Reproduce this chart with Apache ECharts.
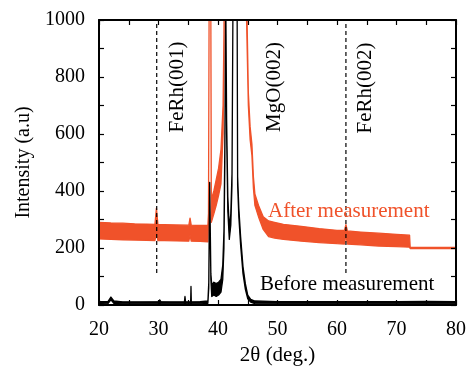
<!DOCTYPE html>
<html><head><meta charset="utf-8">
<script src="https://cdn.jsdelivr.net/npm/echarts@6/dist/echarts.min.js"></script>
<style>html,body{margin:0;padding:0;background:#fff}#c{width:471px;height:367px}</style>
</head><body><div id="c"></div>
<script>
// ---- data (2θ in degrees, intensity in a.u.) ----
// "After measurement" trace: noisy band given by its lower and upper envelope
const afterX    = [20,22,24,26,28, 29.4,29.65,29.9, 31,33, 35.1,35.3,35.5, 37, 38.3,38.4,38.5,38.65,38.8,38.88, 39.3,39.7,40.1,40.5, 40.85,41.0,41.15, 44.8,45.1,45.4,45.7,45.95,46.2,46.8,47.6,48.5,49.5, 51,54,57,60, 61.25,61.5,61.75, 64,67,70, 72.2,72.3,80];
const afterLow  = [232,230,229,228,227, 226,250,226, 226,225, 224,245,224, 223, 222,300,1000,1500,1000,290, 320,350,385,425, 600,850,1500, 1000,700,580,525,410,350,310,265,240,235, 230,224,219,215, 214,245,214, 211,207,205, 203,198,198];
const afterHigh = [290,288,287,285,284, 283,340,283, 282,281, 280,305,280, 279, 280,320,1000,1500,1000,370, 400,440,480,545, 700,950,1500, 1100,745,625,565,450,390,350,310,295,290, 283,276,268,262, 262,282,260, 256,252,248, 245,202,202];

// "Before measurement" trace
const beforeX    = [20,21.5,22,22.5,24, 27,30,30.2,30.4,32, 34.35,34.45,34.55, 35.4,35.46,35.52, 37, 38.3,38.45,38.6,38.7,38.8,38.95, 39.3,39.7,40.1,40.5, 40.8,41.0,41.15,41.3,41.45,41.65,41.9, 42.15,42.35,42.5,42.9,43.22, 43.3,43.5,43.8,44.2,44.6,45.0,45.5,46.2, 50,55,60,65,70,75,80];
const beforeLow  = [3,5,18,6,4, 4,4,6,4,4, 4,25,4, 4,60,4, 4, 6,60,400,250,90,30, 35,30,35,45, 90,200,500,1100,600,330,230, 280,420,1000,2000,1000, 420,310,210,110,55,22,10,5, 4,4,4,4,4,4,4];
const beforeHigh = [12,12,28,14,11, 11,12,18,12,11, 11,30,11, 11,65,11, 12, 14,80,430,270,110,70, 80,75,80,90, 140,260,560,1100,650,380,270, 320,460,1000,2000,1000, 450,340,240,135,75,35,20,14, 12,12,12,12,12,13,12];

// dashed reference lines at the FeRh peaks
const dashedPeaks = [29.7, 61.5];
const dashedRange = [112, 1000];

const peakLabels = ['FeRh(001)', 'MgO(002)', 'FeRh(002)'];
const traceNames = ['After measurement', 'Before measurement'];
const axisNames = ['2θ (deg.)', 'Intensity (a.u)'];

// ---- chart ----
const FONT = 'Liberation Serif';
const ORANGE = '#f0522a';
const chart = echarts.init(document.getElementById('c'), null, {renderer: 'canvas'});

function bandSeries(name, xs, lo, hi, color) {
  return {
    type: 'custom', name: name, coordinateSystem: 'cartesian2d',
    clip: true, silent: true, animation: false,
    data: xs.map((x, i) => [x, lo[i], hi[i]]),
    encode: {x: 0, y: 1},
    renderItem: function (params, api) {
      if (params.dataIndex !== 0) return null;
      const pts = [];
      for (let i = 0; i < xs.length; i++) pts.push(api.coord([xs[i], hi[i]]));
      for (let i = xs.length - 1; i >= 0; i--) pts.push(api.coord([xs[i], lo[i]]));
      const cs = params.coordSys;
      return {
        type: 'polygon', shape: {points: pts},
        style: {fill: color, stroke: color, lineWidth: 1.3, lineJoin: 'round'},
        clipPath: {type: 'rect', shape: {x: cs.x, y: cs.y, width: cs.width, height: cs.height}}
      };
    }
  };
}

const tickStyle = {color: '#000', width: 1.2};
function xAx(pos, labels) {
  return {
    type: 'value', min: 20, max: 80, interval: 10, position: pos,
    axisLine: {show: true, onZero: false, lineStyle: {color: '#000', width: 2}},
    axisTick: {show: true, inside: true, length: 5, lineStyle: tickStyle},
    minorTick: {show: true, splitNumber: 2, length: 5, lineStyle: tickStyle},
    splitLine: {show: false}, minorSplitLine: {show: false},
    axisLabel: {show: labels, fontFamily: FONT, fontSize: 20, color: '#000', margin: 15,
                formatter: v => String(v)},
    name: labels ? axisNames[0] : '', nameLocation: 'middle', nameGap: 40,
    nameTextStyle: {fontFamily: FONT, fontSize: 21, color: '#000'},
    z: 10
  };
}
function yAx(pos, labels) {
  return {
    type: 'value', min: 0, max: 1000, interval: 200, position: pos,
    axisLine: {show: true, onZero: false, lineStyle: {color: '#000', width: 2}},
    axisTick: {show: true, inside: true, length: 5, lineStyle: tickStyle},
    minorTick: {show: true, splitNumber: 2, length: 5, lineStyle: tickStyle},
    splitLine: {show: false}, minorSplitLine: {show: false},
    axisLabel: {show: labels, fontFamily: FONT, fontSize: 20, color: '#000', margin: 14,
                formatter: v => String(v)},
    name: labels ? axisNames[1] : '', nameLocation: 'middle', nameGap: 51,
    nameTextStyle: {fontFamily: FONT, fontSize: 20, color: '#000'},
    z: 10
  };
}

const dashSeries = dashedPeaks.map(p => ({
  type: 'line', silent: true, animation: false, symbol: 'none',
  data: [[p, dashedRange[0]], [p, dashedRange[1]]],
  lineStyle: {color: '#000', width: 1.2, type: [4, 3]}, z: 5
}));

const txt = (text, x, y, rot, align, color) => ({
  type: 'text', x: x, y: y, rotation: rot, z: 20,
  style: {text: text, fontFamily: FONT, fontSize: 21, fill: color, align: align, verticalAlign: 'middle'}
});

chart.setOption({
  animation: false,
  backgroundColor: '#fff',
  grid: {left: 99, right: 15, top: 20, bottom: 62, containLabel: false, outerBoundsMode: 'none'},
  xAxis: [xAx('bottom', true), xAx('top', false)],
  yAxis: [yAx('left', true), yAx('right', false)],
  series: [
    bandSeries(traceNames[0], afterX, afterLow, afterHigh, ORANGE),
    bandSeries(traceNames[1], beforeX, beforeLow, beforeHigh, '#000')
  ].concat(dashSeries),
  graphic: [
    txt(peakLabels[0], 177, 87, Math.PI / 2, 'center', '#000'),
    txt(peakLabels[1], 274, 87, Math.PI / 2, 'center', '#000'),
    txt(peakLabels[2], 365, 88, Math.PI / 2, 'center', '#000'),
    txt(traceNames[0], 268, 211, 0, 'left', ORANGE),
    txt(traceNames[1], 260, 284, 0, 'left', '#000')
  ]
});
</script>
</body></html>
